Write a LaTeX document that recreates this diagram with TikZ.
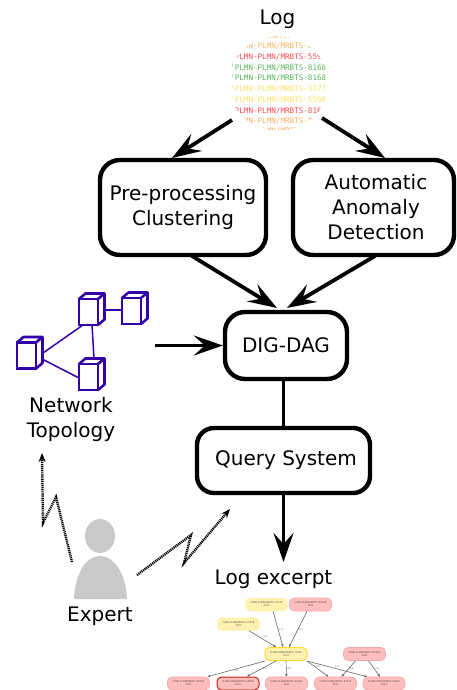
\documentclass[tikz,border=0pt]{standalone}
\usepackage{fontspec}
\setmainfont{DejaVu Sans}
\newfontfamily\logmono{DejaVu Sans Mono}
\usetikzlibrary{arrows.meta,positioning}
\definecolor{cubeblue}{HTML}{3400A8}
\definecolor{lgreen}{HTML}{5CB85C}
\definecolor{lred}{HTML}{FF4A50}
\definecolor{lorange}{HTML}{FFB266}
\definecolor{lyellow}{HTML}{FFE066}
\definecolor{ypale}{HTML}{FFF2B0}
\definecolor{pinkfill}{HTML}{FFBDBD}
\definecolor{pinkline}{HTML}{F4A8A8}
\definecolor{goldline}{HTML}{FFD92E}
\definecolor{redline}{HTML}{C81E1E}
\tikzset{
  procbox/.style={draw=black,line width=4.4pt,rounded corners=20pt,align=center,inner sep=0pt,
    font=\fontsize{20}{25}\selectfont},
  lbl/.style={align=center,inner sep=0pt,font=\fontsize{20}{25}\selectfont},
  bigarrow/.style={line width=3.8pt,-{Stealth[length=29pt,width=20pt,inset=11pt]}},
  plainline/.style={line width=3.8pt},
  zig/.style={line width=2.4pt,dash pattern=on 1.1pt off 0.8pt,-{Stealth[length=9pt,width=7pt]}},
  logline/.style={inner sep=0pt,anchor=west,font=\logmono\fontsize{7.6}{9}\selectfont},
  cubeface/.style={draw=cubeblue,line width=2.6pt,minimum width=19pt,minimum height=26pt,inner sep=0pt,outer sep=0pt},
  cubeline/.style={draw=cubeblue,line width=1.5pt},
  mini/.style={rounded corners=4.5pt,minimum width=42pt,minimum height=13pt,inner sep=0pt,align=center,
    font=\fontsize{2.4}{3}\selectfont,text=black!70},
  miniy/.style={mini,fill=ypale,draw=ypale},
  minip/.style={mini,fill=pinkfill,draw=pinkline,line width=.6pt},
  minie/.style={draw=black!60,line width=.6pt,-{Stealth[length=3pt,width=2.6pt]}},
  elab/.style={font=\fontsize{2.5}{3}\selectfont,text=black!60,inner sep=.8pt}
}
\newcommand{\netcube}[3]{%
  \node[cubeface] (#1) at (#2,#3) {};
  \draw[draw=cubeblue,line width=2.6pt,line join=round]
    (#1.north west) -- ++(6.5,-5.5) -- ++(19,0) -- ++(0,26) -- (#1.south east)
    (#1.north east) -- ++(6.5,-5.5);
}
\begin{document}
\begin{tikzpicture}[x=1pt,y=-1pt]
\useasboundingbox (0,0) rectangle (456,690);

% Log cloud
\node[lbl] (log) at (277.5,19) {Log};
\begin{scope}
  \clip (278,83) ellipse (50 and 47);
  \node[logline,text=lorange] (l0) at (230,36) {'PLMN-PLMN/MRBTS-8168};
  \node[logline,text=lorange] (l1) at (230,46) {'PLMN-PLMN/MRBTS-8168};
  \node[logline,text=lred]    (l2) at (230,57) {'PLMN-PLMN/MRBTS-5598};
  \node[logline,text=lgreen]  (l3) at (230,68) {'PLMN-PLMN/MRBTS-8168};
  \node[logline,text=lgreen]  (l4) at (230,78) {'PLMN-PLMN/MRBTS-8168};
  \node[logline,text=lyellow] (l5) at (230,89) {'PLMN-PLMN/MRBTS-3377};
  \node[logline,text=lyellow] (l6) at (230,100) {'PLMN-PLMN/MRBTS-5598};
  \node[logline,text=lred]    (l7) at (230,111) {'PLMN-PLMN/MRBTS-8168};
  \node[logline,text=lorange] (l8) at (230,121) {'PLMN-PLMN/MRBTS-8168};
  \node[logline,text=lorange] (l9) at (230,131) {'PLMN-PLMN/MRBTS-8168};
\end{scope}

% Process boxes
\node[procbox,minimum width=166pt,minimum height=95pt] (pre) at (183,207.5) {Pre-processing\\Clustering};
\node[procbox,minimum width=161pt,minimum height=95pt] (auto) at (373.5,207.5) {\hspace*{5pt}Automatic\\\hspace*{5pt}Anomaly\\\hspace*{5pt}Detection};
\node[procbox,minimum width=122pt,minimum height=67pt] (dig) at (286,345.5) {DIG-DAG};
\node[procbox,minimum width=173pt,minimum height=65pt,rounded corners=17pt] (query) at (283.5,460.5) {\hspace*{5pt}Query System};
\node[lbl] (excerpt) at (273.5,579) {Log excerpt};

% Main connectors
\coordinate (logL) at (232,120);
\coordinate (logR) at (322,118);
\coordinate (preIn) at (172,158);
\coordinate (autoIn) at (385,158);
\coordinate (preOut) at (192,256);
\coordinate (autoOut) at (375,256);
\coordinate (digInL) at (277,308);
\coordinate (digInR) at (287,308);
\coordinate (netOut) at (155,345.5);
\coordinate (qEnd) at (283.5,562);
\draw[bigarrow] (logL) -- (preIn);
\draw[bigarrow] (logR) -- (autoIn);
\draw[bigarrow] (preOut) -- (digInL);
\draw[bigarrow] (autoOut) -- (digInR);
\draw[bigarrow] (netOut) -- (dig.west);
\draw[plainline] ([xshift=-2.5pt]dig.south) -- (query.north);
\draw[bigarrow] (query.south) -- (qEnd);

% Network topology
\netcube{c1}{88.5}{312}
\netcube{c2}{131.5}{311}
\netcube{c3}{26.5}{355.5}
\netcube{c4}{88.5}{377}
\draw[cubeline] ([xshift=6pt,yshift=2pt]c1.east) -- ([yshift=1pt]c2.west);
\draw[cubeline] ([xshift=4pt]c1.south west) -- ([xshift=7pt,yshift=2.5pt]c3.east);
\draw[cubeline] ([xshift=3.5pt]c1.south) -- ([xshift=5.5pt,yshift=6pt]c4.north);
\draw[cubeline] ([xshift=7pt,yshift=-4pt]c3.east) -- ([yshift=-1pt]c4.west);
\node[lbl] (net) at (71,419) {Network\\Topology};

% Expert
\fill[black!21] (100,536) ellipse (15 and 17);
\fill[black!21] (74,599) .. controls (75,575) and (85,556) .. (100,556)
   .. controls (115,556) and (126,575) .. (127,599) -- cycle;
\node[lbl] (expert) at (100,616) {Expert};

% Expert feedback
\coordinate (z1a) at (72,562);
\coordinate (z1b) at (56,497);
\coordinate (z1c) at (43,523);
\coordinate (z1d) at (42,453);
\draw[zig] (z1a) -- (z1b) -- (z1c) -- (z1d);
\coordinate (z2a) at (137,575);
\coordinate (z2b) at (191,535);
\coordinate (z2c) at (184,563);
\coordinate (z2d) at (230,509);
\draw[zig] (z2a) -- (z2b) -- (z2c) -- (z2d);

% Mini graph
\node[miniy] (n1) at (266.5,604.5) {PLMN-PLMN/MRBTS-15578\\7937};
\node[minip] (n2) at (310.5,604.5) {PLMN-PLMN/MRBTS-55928\\7921};
\node[miniy] (n3) at (238.5,624) {PLMN-PLMN/MRBTS-15578\\7937};
\node[miniy,draw=goldline,line width=1pt] (n4) at (286,654) {PLMN-PLMN/MRBTS-71349\\7937};
\node[minip] (n5) at (364.5,654) {PLMN-PLMN/MRBTS-81509\\7921};
\node[minip] (b1) at (188.5,683.5) {PLMN-PLMN/MRBTS-65243\\7921};
\node[minip,draw=redline,line width=1pt] (b2) at (238,683.5) {PLMN-PLMN/MRBTS-65808\\7921};
\node[minip] (b3) at (286.5,683.5) {PLMN-PLMN/MRBTS-65323\\7921};
\node[minip] (b4) at (335.5,683.5) {PLMN-PLMN/MRBTS-64772\\7921};
\node[minip] (b5) at (384,683.5) {PLMN-PLMN/MRBTS-65440\\7921};
\draw[minie] ([xshift=6.5pt]n1.south) -- node[elab,right] {1.0} ([xshift=-3pt]n4.north);
\draw[minie] ([xshift=-3.5pt]n2.south) -- node[elab,right] {1.0} ([xshift=3pt]n4.north);
\draw[minie] ([xshift=10.5pt]n3.south) -- node[elab,above right] {1.0} ([xshift=-10pt]n4.north);
\draw[minie] ([xshift=-21pt]n4.south) -- node[elab,below] {1.0} ([xshift=19pt]b1.north);
\draw[minie] ([xshift=-10pt]n4.south) -- node[elab,right] {1.0} ([xshift=9pt]b2.north);
\draw[minie] (n4.south) -- node[elab,right] {1.0} (b3.north);
\draw[minie] ([xshift=21pt]n4.south) -- node[elab,above] {1.0} ([xshift=-7pt]b4.north);
\draw[minie] ([xshift=21pt]n4.south) -- node[elab,above] {1.0} ([xshift=-17pt]b5.north);
\draw[minie] ([xshift=-9pt]n5.south) -- node[elab,right] {1.0} ([xshift=6pt]b4.north);
\draw[minie] ([xshift=4pt]n5.south) -- node[elab,right] {1.0} ([xshift=-4pt]b5.north);
\end{tikzpicture}
\end{document}
